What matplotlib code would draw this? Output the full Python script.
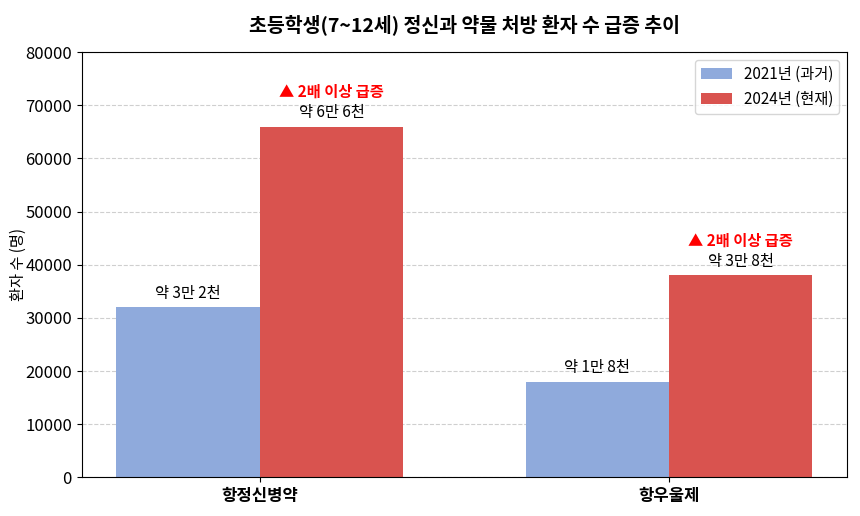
import matplotlib
matplotlib.use("Agg")
import matplotlib.pyplot as plt
import numpy as np

plt.rcParams['font.family'] = ['Noto Sans CJK KR', 'DejaVu Sans']
plt.rcParams['axes.unicode_minus'] = False

# 데이터
categories = ['항정신병약', '항우울제']
values_2021 = [32000, 18000]
values_2024 = [66000, 38000]
labels_2021 = ['약 3만 2천', '약 1만 8천']
labels_2024 = ['약 6만 6천', '약 3만 8천']
surge_text = '▲ 2배 이상 급증'

x = np.arange(len(categories))
width = 0.35

fig, ax = plt.subplots(figsize=(8.6, 5.16), dpi=100)
b1 = ax.bar(x - width / 2, values_2021, width, label='2021년 (과거)', color='#8faadc')
b2 = ax.bar(x + width / 2, values_2024, width, label='2024년 (현재)', color='#d9534f')

for rect, txt in zip(b1, labels_2021):
    ax.text(rect.get_x() + rect.get_width() / 2, rect.get_height() + 1000, txt,
            ha='center', va='bottom', fontsize=11)
for rect, txt in zip(b2, labels_2024):
    ax.text(rect.get_x() + rect.get_width() / 2, rect.get_height() + 1000, txt,
            ha='center', va='bottom', fontsize=11)
    ax.text(rect.get_x() + rect.get_width() / 2, rect.get_height() + 5000, surge_text,
            ha='center', va='bottom', fontsize=11, color='red', fontweight='bold')

ax.set_title('초등학생(7~12세) 정신과 약물 처방 환자 수 급증 추이', fontsize=14, fontweight='bold', pad=15)
ax.set_ylabel('환자 수 (명)', fontsize=11)
ax.yaxis.set_label_coords(-0.072, 0.5)
ax.set_xticks(x)
ax.set_xticklabels(categories, fontsize=12, fontweight='bold')
ax.set_ylim(0, 80000)
ax.tick_params(axis='y', labelsize=12)
ax.yaxis.grid(True, linestyle='--', alpha=0.6)
ax.set_axisbelow(True)
ax.legend(loc='upper right', fontsize=11)

fig.subplots_adjust(left=0.095, right=0.985, top=0.899, bottom=0.075)
plt.savefig('out.png', dpi=100)
